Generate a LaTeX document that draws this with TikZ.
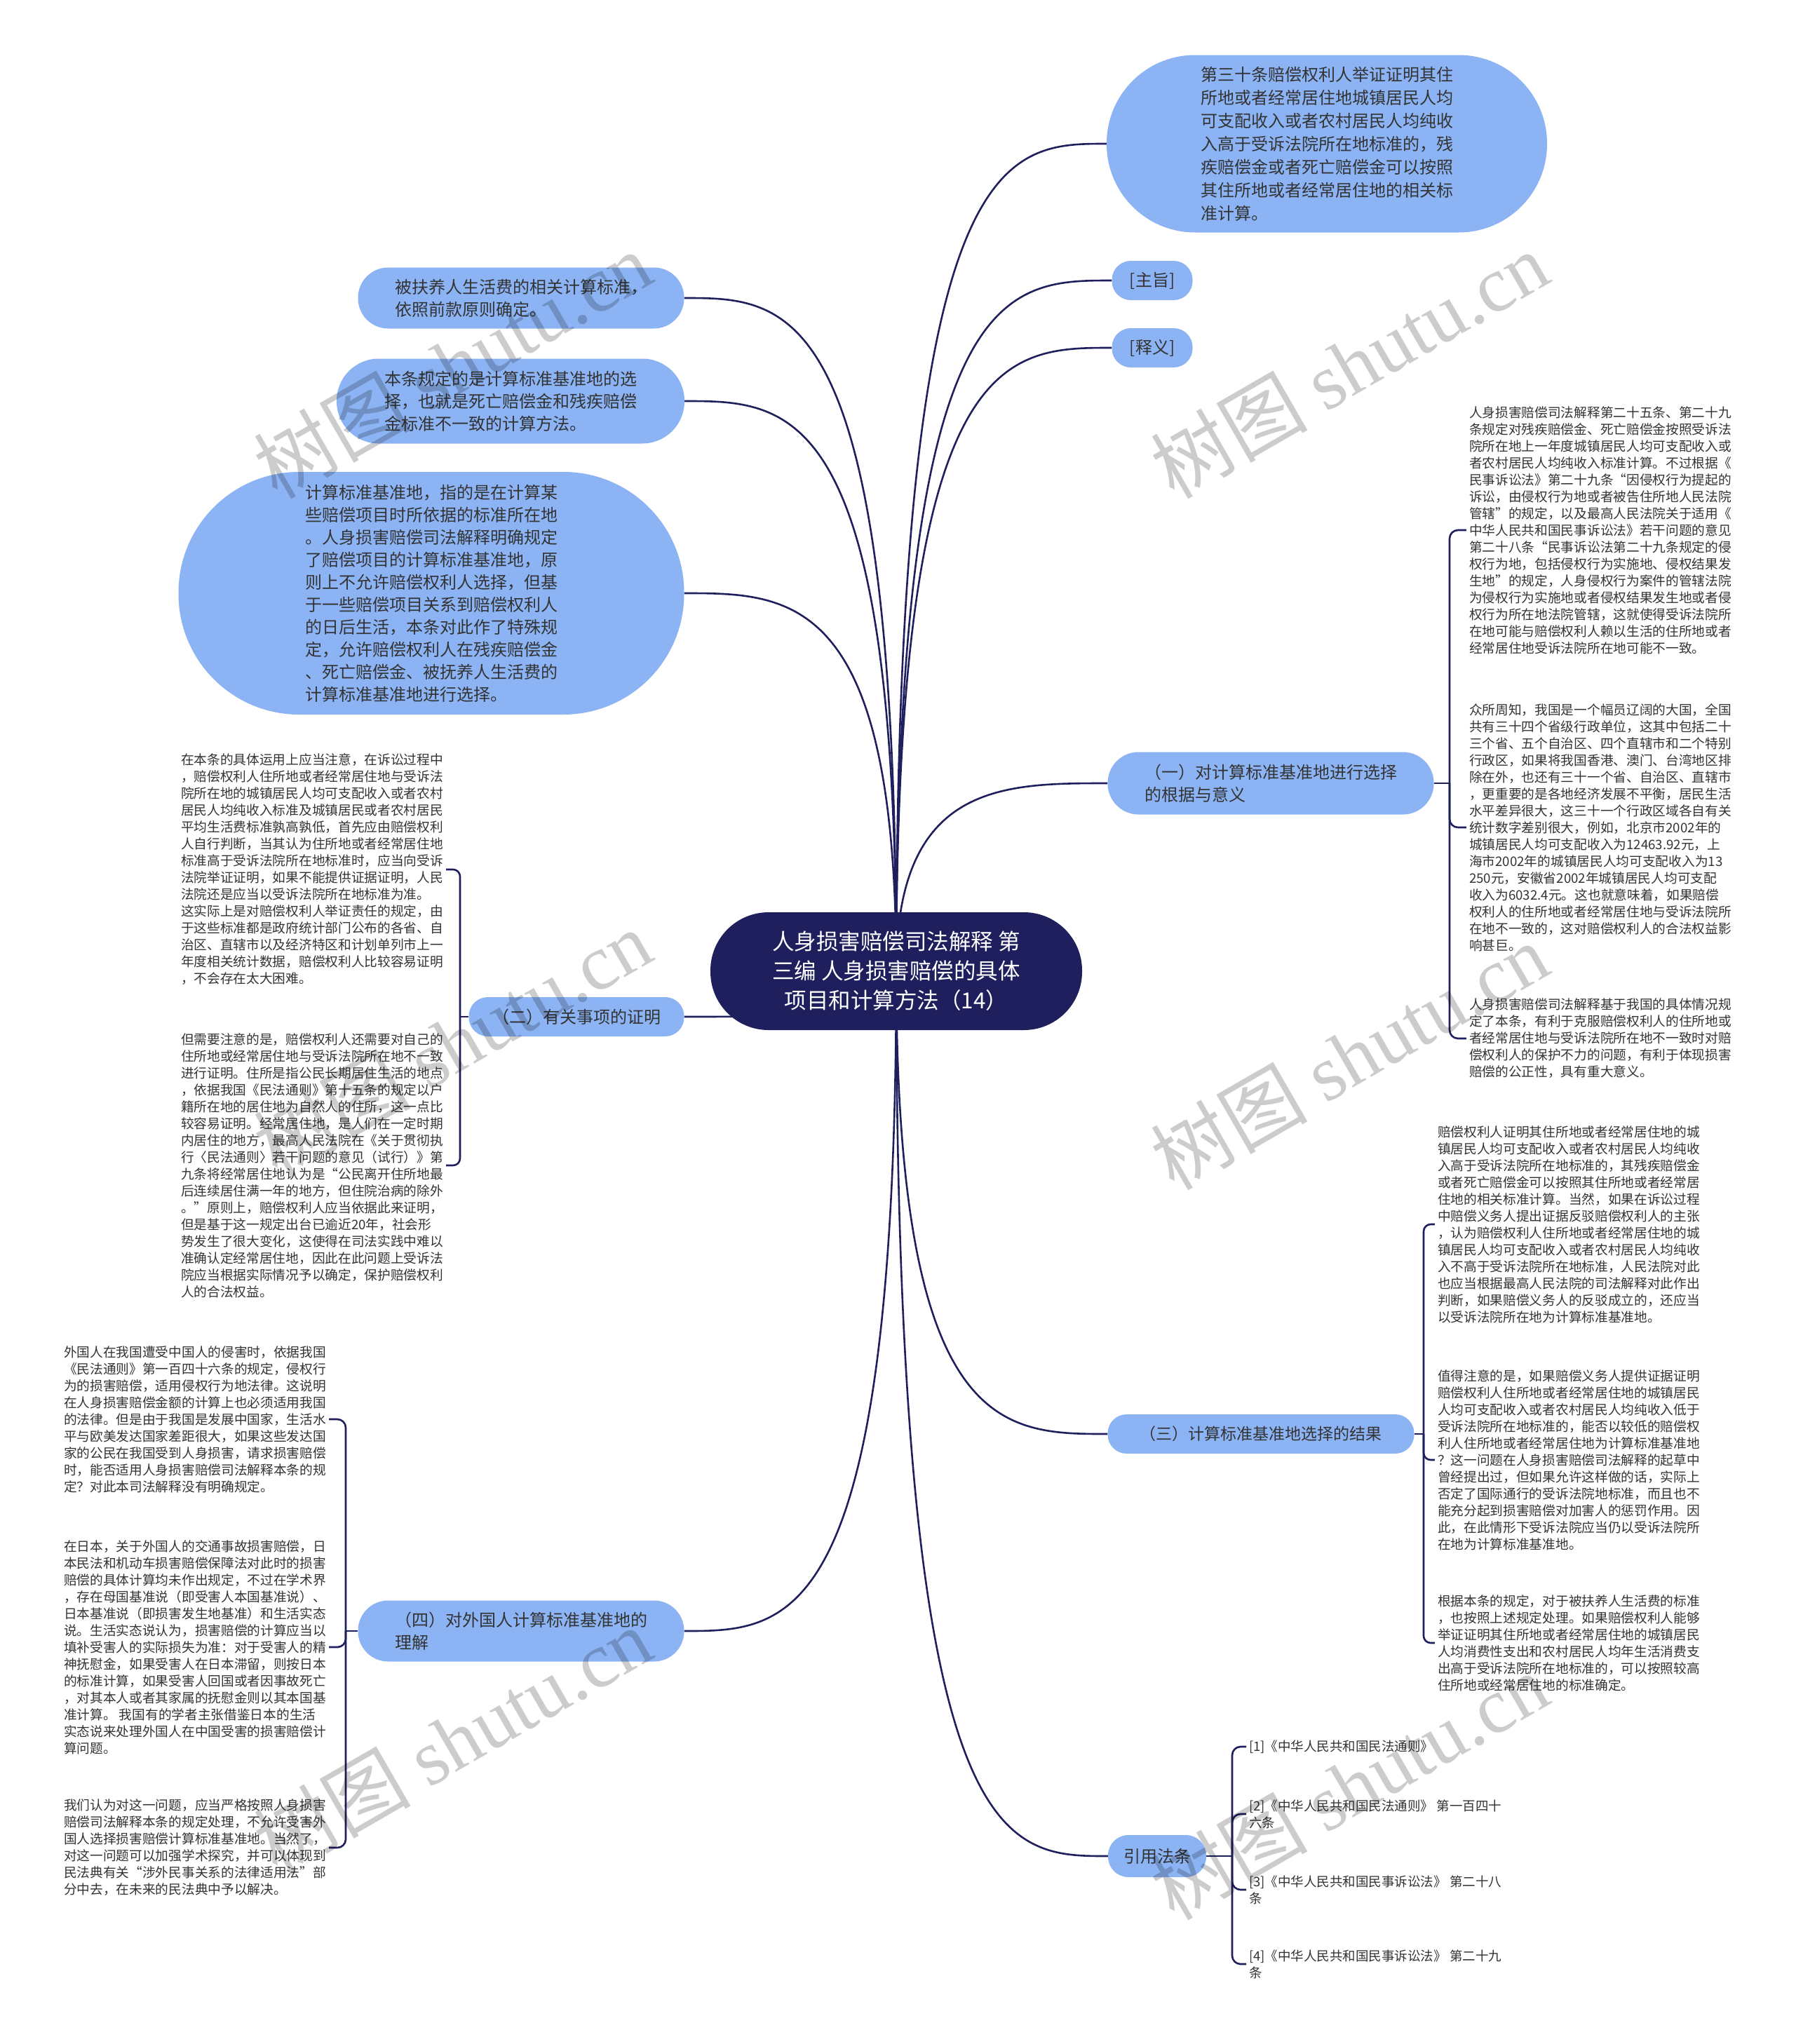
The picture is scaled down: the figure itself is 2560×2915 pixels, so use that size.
\documentclass[tikz,border=0pt]{standalone}
\usepackage{fontspec}
\newfontfamily\cjk{Noto Sans CJK SC}
\newfontfamily\wmserif{Liberation Serif}
\usetikzlibrary{backgrounds}
\definecolor{navy}{HTML}{1F1F5E}
\definecolor{bub}{HTML}{8CB4F5}
\definecolor{txt}{HTML}{333333}
\begin{document}
\begin{tikzpicture}[x=1pt,y=-1pt,
  conn/.style={draw=navy,line width=2.6pt},
  pill/.style={fill=bub,text=txt,align=left,inner sep=0pt,font=\cjk\fontsize{24}{32}\selectfont},
  note/.style={text=txt,align=left,inner sep=4pt,font=\cjk\fontsize{18.7}{24}\selectfont},
  cite/.style={text=txt,align=left,inner sep=4pt,anchor=west,font=\cjk\fontsize{18.5}{24}\selectfont},
  wm/.style={text=black,text opacity=0.2,rotate=30,inner sep=0pt,font=\cjk\fontsize{112}{118}\selectfont},
]
\useasboundingbox (0,0) rectangle (2560,2915);

% root
\node[fill=navy,text=white,align=center,inner sep=0pt,minimum width=530pt,minimum height=168pt,rounded corners=83pt,font=\cjk\fontsize{31.5}{42}\selectfont] (root) at (1278,1385) {人身损害赔偿司法解释 第\\三编 人身损害赔偿的具体\\项目和计算方法（14）};

% right side
\node[pill,minimum width=628pt,minimum height=253pt,rounded corners=126pt,font=\cjk\fontsize{24}{33}\selectfont] (tr) at (1892,205) {第三十条赔偿权利人举证证明其住\\所地或者经常居住地城镇居民人均\\可支配收入或者农村居民人均纯收\\入高于受诉法院所在地标准的，残\\疾赔偿金或者死亡赔偿金可以按照\\其住所地或者经常居住地的相关标\\准计算。};
\node[pill,minimum width=115pt,minimum height=56pt,rounded corners=27pt] (zz) at (1643,400) {[主旨]};
\node[pill,minimum width=115pt,minimum height=56pt,rounded corners=27pt] (sy) at (1643,496) {[释义]};
\node[pill,minimum width=465pt,minimum height=89pt,rounded corners=44pt] (n1) at (1812,1117) {（一）对计算标准基准地进行选择\\的根据与意义};
\node[pill,minimum width=437pt,minimum height=56pt,rounded corners=27pt,font=\cjk\fontsize{23}{32}\selectfont] (n3) at (1798,2045) {（三）计算标准基准地选择的结果};
\node[pill,minimum width=140pt,minimum height=60pt,rounded corners=29pt] (n5) at (1650,2647) {引用法条};

% left side
\node[pill,minimum width=465pt,minimum height=87pt,rounded corners=43pt] (lb1) at (743,425) {被扶养人生活费的相关计算标准，\\依照前款原则确定。};
\node[pill,minimum width=496pt,minimum height=121pt,rounded corners=60pt] (lb2) at (728,572) {本条规定的是计算标准基准地的选\\择，也就是死亡赔偿金和残疾赔偿\\金标准不一致的计算方法。};
\node[pill,minimum width=721pt,minimum height=346pt,rounded corners=172pt] (lb3) at (615,846) {计算标准基准地，指的是在计算某\\些赔偿项目时所依据的标准所在地\\。人身损害赔偿司法解释明确规定\\了赔偿项目的计算标准基准地，原\\则上不允许赔偿权利人选择，但基\\于一些赔偿项目关系到赔偿权利人\\的日后生活，本条对此作了特殊规\\定，允许赔偿权利人在残疾赔偿金\\、死亡赔偿金、被抚养人生活费的\\计算标准基准地进行选择。};
\node[pill,minimum width=307pt,minimum height=56pt,rounded corners=27pt] (n2) at (822,1450) {（二）有关事项的证明};
\node[pill,minimum width=465pt,minimum height=87pt,rounded corners=43pt] (n4) at (743,2326) {（四）对外国人计算标准基准地的\\理解};

% notes of (一)
\node[note] (t11) at (2282,756) {人身损害赔偿司法解释第二十五条、第二十九\\条规定对残疾赔偿金、死亡赔偿金按照受诉法\\院所在地上一年度城镇居民人均可支配收入或\\者农村居民人均纯收入标准计算。不过根据《\\民事诉讼法》第二十九条“因侵权行为提起的\\诉讼，由侵权行为地或者被告住所地人民法院\\管辖”的规定，以及最高人民法院关于适用《\\中华人民共和国民事诉讼法》若干问题的意见\\第二十八条“民事诉讼法第二十九条规定的侵\\权行为地，包括侵权行为实施地、侵权结果发\\生地”的规定，人身侵权行为案件的管辖法院\\为侵权行为实施地或者侵权结果发生地或者侵\\权行为所在地法院管辖，这就使得受诉法院所\\在地可能与赔偿权利人赖以生活的住所地或者\\经常居住地受诉法院所在地可能不一致。};
\node[note] (t12) at (2282,1180) {众所周知，我国是一个幅员辽阔的大国，全国\\共有三十四个省级行政单位，这其中包括二十\\三个省、五个自治区、四个直辖市和二个特别\\行政区，如果将我国香港、澳门、台湾地区排\\除在外，也还有三十一个省、自治区、直辖市\\，更重要的是各地经济发展不平衡，居民生活\\水平差异很大，这三十一个行政区域各自有关\\统计数字差别很大，例如，北京市2002年的\\城镇居民人均可支配收入为12463.92元，上\\海市2002年的城镇居民人均可支配收入为13\\250元，安徽省2002年城镇居民人均可支配\\收入为6032.4元。这也就意味着，如果赔偿\\权利人的住所地或者经常居住地与受诉法院所\\在地不一致的，这对赔偿权利人的合法权益影\\响甚巨。};
\node[note] (t13) at (2282,1481) {人身损害赔偿司法解释基于我国的具体情况规\\定了本条，有利于克服赔偿权利人的住所地或\\者经常居住地与受诉法院所在地不一致时对赔\\偿权利人的保护不力的问题，有利于体现损害\\赔偿的公正性，具有重大意义。};

% notes of (三)
\node[note] (t31) at (2237,1746) {赔偿权利人证明其住所地或者经常居住地的城\\镇居民人均可支配收入或者农村居民人均纯收\\入高于受诉法院所在地标准的，其残疾赔偿金\\或者死亡赔偿金可以按照其住所地或者经常居\\住地的相关标准计算。当然，如果在诉讼过程\\中赔偿义务人提出证据反驳赔偿权利人的主张\\，认为赔偿权利人住所地或者经常居住地的城\\镇居民人均可支配收入或者农村居民人均纯收\\入不高于受诉法院所在地标准，人民法院对此\\也应当根据最高人民法院的司法解释对此作出\\判断，如果赔偿义务人的反驳成立的，还应当\\以受诉法院所在地为计算标准基准地。};
\node[note] (t32) at (2237,2082) {值得注意的是，如果赔偿义务人提供证据证明\\赔偿权利人住所地或者经常居住地的城镇居民\\人均可支配收入或者农村居民人均纯收入低于\\受诉法院所在地标准的，能否以较低的赔偿权\\利人住所地或者经常居住地为计算标准基准地\\？这一问题在人身损害赔偿司法解释的起草中\\曾经提出过，但如果允许这样做的话，实际上\\否定了国际通行的受诉法院地标准，而且也不\\能充分起到损害赔偿对加害人的惩罚作用。因\\此，在此情形下受诉法院应当仍以受诉法院所\\在地为计算标准基准地。};
\node[note] (t33) at (2237,2343) {根据本条的规定，对于被扶养人生活费的标准\\，也按照上述规定处理。如果赔偿权利人能够\\举证证明其住所地或者经常居住地的城镇居民\\人均消费性支出和农村居民人均年生活消费支\\出高于受诉法院所在地标准的，可以按照较高\\住所地或经常居住地的标准确定。};

% citations
\node[cite] (c1) at (1777,2491) {[1]《中华人民共和国民法通则》};
\node[cite] (c2) at (1777,2587) {[2]《中华人民共和国民法通则》 第一百四十\\六条};
\node[cite] (c3) at (1777,2695) {[3]《中华人民共和国民事诉讼法》 第二十八\\条};
\node[cite] (c4) at (1777,2801) {[4]《中华人民共和国民事诉讼法》 第二十九\\条};

% notes of (二)
\node[note] (t21) at (445,1240) {在本条的具体运用上应当注意，在诉讼过程中\\，赔偿权利人住所地或者经常居住地与受诉法\\院所在地的城镇居民人均可支配收入或者农村\\居民人均纯收入标准及城镇居民或者农村居民\\平均生活费标准孰高孰低，首先应由赔偿权利\\人自行判断，当其认为住所地或者经常居住地\\标准高于受诉法院所在地标准时，应当向受诉\\法院举证证明，如果不能提供证据证明，人民\\法院还是应当以受诉法院所在地标准为准。\\这实际上是对赔偿权利人举证责任的规定，由\\于这些标准都是政府统计部门公布的各省、自\\治区、直辖市以及经济特区和计划单列市上一\\年度相关统计数据，赔偿权利人比较容易证明\\，不会存在太大困难。};
\node[note] (t22) at (445,1662) {但需要注意的是，赔偿权利人还需要对自己的\\住所地或经常居住地与受诉法院所在地不一致\\进行证明。住所是指公民长期居住生活的地点\\，依据我国《民法通则》第十五条的规定以户\\籍所在地的居住地为自然人的住所，这一点比\\较容易证明。经常居住地，是人们在一定时期\\内居住的地方，最高人民法院在《关于贯彻执\\行〈民法通则〉若干问题的意见（试行）》第\\九条将经常居住地认为是“公民离开住所地最\\后连续居住满一年的地方，但住院治病的除外\\。”原则上，赔偿权利人应当依据此来证明，\\但是基于这一规定出台已逾近20年，社会形\\势发生了很大变化，这使得在司法实践中难以\\准确认定经常居住地，因此在此问题上受诉法\\院应当根据实际情况予以确定，保护赔偿权利\\人的合法权益。};

% notes of (四)
\node[note] (t41) at (278,2024) {外国人在我国遭受中国人的侵害时，依据我国\\《民法通则》第一百四十六条的规定，侵权行\\为的损害赔偿，适用侵权行为地法律。这说明\\在人身损害赔偿金额的计算上也必须适用我国\\的法律。但是由于我国是发展中国家，生活水\\平与欧美发达国家差距很大，如果这些发达国\\家的公民在我国受到人身损害，请求损害赔偿\\时，能否适用人身损害赔偿司法解释本条的规\\定？对此本司法解释没有明确规定。};
\node[note] (t42) at (278,2349) {在日本，关于外国人的交通事故损害赔偿，日\\本民法和机动车损害赔偿保障法对此时的损害\\赔偿的具体计算均未作出规定，不过在学术界\\，存在母国基准说（即受害人本国基准说）、\\日本基准说（即损害发生地基准）和生活实态\\说。生活实态说认为，损害赔偿的计算应当以\\填补受害人的实际损失为准：对于受害人的精\\神抚慰金，如果受害人在日本滞留，则按日本\\的标准计算，如果受害人回国或者因事故死亡\\，对其本人或者其家属的抚慰金则以其本国基\\准计算。 我国有的学者主张借鉴日本的生活\\实态说来处理外国人在中国受害的损害赔偿计\\算问题。};
\node[note] (t43) at (278,2635) {我们认为对这一问题，应当严格按照人身损害\\赔偿司法解释本条的规定处理，不允许受害外\\国人选择损害赔偿计算标准基准地。当然了，\\对这一问题可以加强学术探究，并可以体现到\\民法典有关“涉外民事关系的法律适用法”部\\分中去，在未来的民法典中予以解决。};

% bracket points
\coordinate (b1) at (2067,1117);
\coordinate (b3) at (2030,2045);
\coordinate (b5) at (1757,2647);
\coordinate (b2) at (656,1450);
\coordinate (b4) at (493,2326);

\begin{scope}[on background layer]
\fill[white] (0,0) rectangle (2560,2915);
% root connectors
\draw[conn] (root.center) .. controls (1278,205) and (1431,205) .. (tr.west);
\draw[conn] (root.center) .. controls (1278,400) and (1432,400) .. (zz.west);
\draw[conn] (root.center) .. controls (1278,496) and (1432,496) .. (sy.west);
\draw[conn] (root.center) .. controls (1278,1117) and (1429,1117) .. (n1.west);
\draw[conn] (root.center) .. controls (1278,2045) and (1429,2045) .. (n3.west);
\draw[conn] (root.center) .. controls (1278,2647) and (1429,2647) .. (n5.west);
\draw[conn] (root.center) .. controls (1278,425) and (1127,425) .. (lb1.east);
\draw[conn] (root.center) .. controls (1278,572) and (1127,572) .. (lb2.east);
\draw[conn] (root.center) .. controls (1278,846) and (1127,846) .. (lb3.east);
\draw[conn] (root.center) .. controls (1278,1450) and (1127,1450) .. (n2.east);
\draw[conn] (root.center) .. controls (1278,2326) and (1127,2326) .. (n4.east);
% brackets
\draw[conn] (n1.east) -- (b1);
\foreach \c in {t11,t12,t13} \draw[conn,rounded corners=12pt] (b1) |- (\c.west);
\draw[conn] (n3.east) -- (b3);
\foreach \c in {t31,t32,t33} \draw[conn,rounded corners=10pt] (b3) |- (\c.west);
\draw[conn] (n5.east) -- (b5);
\foreach \c in {c1,c2,c3,c4} \draw[conn,rounded corners=12pt] (b5) |- (\c.west);
\draw[conn] (n2.west) -- (b2);
\foreach \c in {t21,t22} \draw[conn,rounded corners=10pt] (b2) |- (\c.east);
\draw[conn] (n4.west) -- (b4);
\foreach \c in {t41,t42,t43} \draw[conn,rounded corners=12pt] (b4) |- (\c.east);
\end{scope}

% watermarks
\node[wm] (w1) at (645,520) {树图 {\wmserif shutu.cn}};
\node[wm] (w2) at (1924,520) {树图 {\wmserif shutu.cn}};
\node[wm] (w3) at (645,1487) {树图 {\wmserif shutu.cn}};
\node[wm] (w4) at (1924,1506) {树图 {\wmserif shutu.cn}};
\node[wm] (w5) at (645,2482) {树图 {\wmserif shutu.cn}};
\node[wm] (w6) at (1924,2547) {树图 {\wmserif shutu.cn}};
\end{tikzpicture}
\end{document}
